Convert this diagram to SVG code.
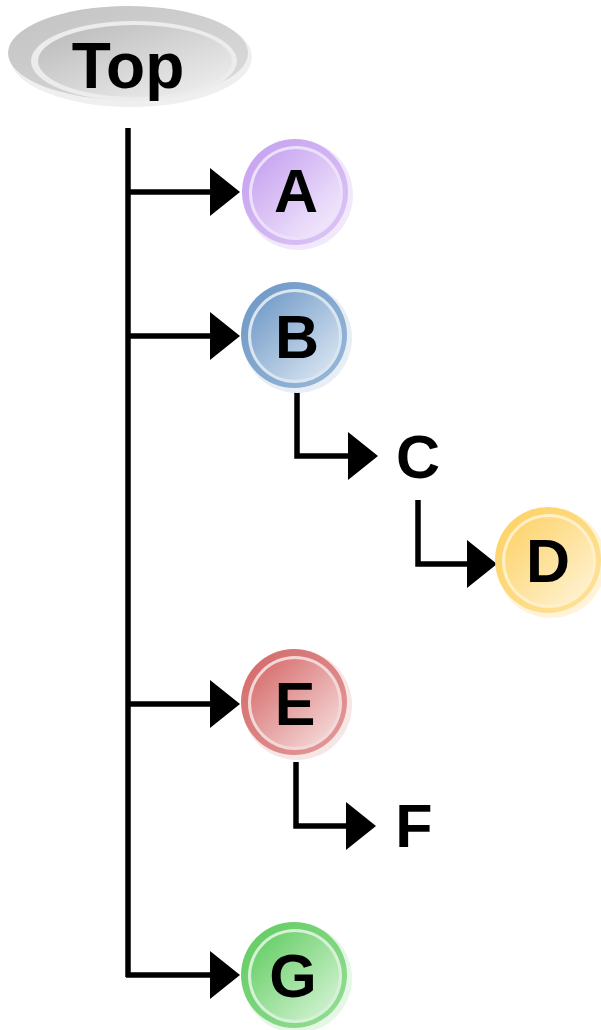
<svg xmlns="http://www.w3.org/2000/svg" width="601" height="1030" viewBox="0 0 601 1030">
<style>
.lbl{font-family:"Liberation Sans",Arial,sans-serif;font-weight:bold;font-size:61px;fill:#000;text-anchor:middle}
.wire{fill:none;stroke:#000;stroke-width:5.5}
</style>
<defs>
<marker id="arr" markerUnits="userSpaceOnUse" markerWidth="32" markerHeight="50" refX="0" refY="24" orient="auto" overflow="visible">
<path d="M0,0 L30,24 L0,48 Z" fill="#000"/>
</marker>
<linearGradient id="gGray" x1="0" y1="0" x2="1" y2="1"><stop offset="0" stop-color="#b8b8b8"/><stop offset="1" stop-color="#f2f2f2"/></linearGradient>
<linearGradient id="rGray" x1="0" y1="0" x2="1" y2="1"><stop offset="0" stop-color="#c2c2c2"/><stop offset="1" stop-color="#dcdcdc"/></linearGradient>
<linearGradient id="gA" x1="0" y1="0" x2="1" y2="1"><stop offset="0" stop-color="#c39cef"/><stop offset="1" stop-color="#f7f1fd"/></linearGradient>
<linearGradient id="rA" x1="0" y1="0" x2="1" y2="1"><stop offset="0" stop-color="#c6a0ef"/><stop offset="1" stop-color="#dcc6f6"/></linearGradient>
<linearGradient id="gB" x1="0" y1="0" x2="1" y2="1"><stop offset="0" stop-color="#6995c4"/><stop offset="1" stop-color="#e2ebf5"/></linearGradient>
<linearGradient id="rB" x1="0" y1="0" x2="1" y2="1"><stop offset="0" stop-color="#6c97c5"/><stop offset="1" stop-color="#9ab9d9"/></linearGradient>
<linearGradient id="gD" x1="0" y1="0" x2="1" y2="1"><stop offset="0" stop-color="#fdd062"/><stop offset="1" stop-color="#fff5da"/></linearGradient>
<linearGradient id="rD" x1="0" y1="0" x2="1" y2="1"><stop offset="0" stop-color="#fdd162"/><stop offset="1" stop-color="#fee39f"/></linearGradient>
<linearGradient id="gE" x1="0" y1="0" x2="1" y2="1"><stop offset="0" stop-color="#d46464"/><stop offset="1" stop-color="#f8e2e2"/></linearGradient>
<linearGradient id="rE" x1="0" y1="0" x2="1" y2="1"><stop offset="0" stop-color="#d46868"/><stop offset="1" stop-color="#e49c9c"/></linearGradient>
<linearGradient id="gG" x1="0" y1="0" x2="1" y2="1"><stop offset="0" stop-color="#5ccb5c"/><stop offset="1" stop-color="#dcf5dc"/></linearGradient>
<linearGradient id="rG" x1="0" y1="0" x2="1" y2="1"><stop offset="0" stop-color="#5fcc5f"/><stop offset="1" stop-color="#98dd98"/></linearGradient>
</defs>
<g id="connectors">
<path class="wire" d="M128,128 V977"/>
<path class="wire" d="M126,192 H210" marker-end="url(#arr)"/>
<path class="wire" d="M126,336 H210" marker-end="url(#arr)"/>
<path class="wire" d="M126,704 H210" marker-end="url(#arr)"/>
<path class="wire" d="M126,975 H210" marker-end="url(#arr)"/>
<path class="wire" d="M297,392 V456 H348" marker-end="url(#arr)"/>
<path class="wire" d="M418,500 V564 H467" marker-end="url(#arr)"/>
<path class="wire" d="M296,762 V826 H346" marker-end="url(#arr)"/>
</g>
<g id="node-top">
<ellipse cx="131" cy="57" rx="121" ry="50" fill="#efefef"/>
<ellipse cx="128" cy="53" rx="120" ry="47" fill="url(#rGray)"/>
<ellipse cx="134" cy="61" rx="103" ry="40" fill="#ececec"/>
<ellipse cx="135" cy="61" rx="97" ry="36" fill="url(#gGray)"/>
<text class="lbl" x="128" y="88" style="font-size:64px">Top</text>
</g>
<g id="node-a">
<circle cx="298" cy="195" r="55" fill="#f1e8fb"/>
<circle cx="295" cy="192" r="53" fill="url(#rA)"/>
<circle cx="296" cy="193" r="47" fill="#ece1fa"/>
<circle cx="296" cy="193" r="44" fill="url(#gA)"/>
<text class="lbl" x="296" y="212">A</text>
</g>
<g id="node-b">
<circle cx="297" cy="338" r="55" fill="#e7eef6"/>
<circle cx="294" cy="335" r="53" fill="url(#rB)"/>
<circle cx="295" cy="336" r="47" fill="#d9e5f1"/>
<circle cx="295" cy="336" r="44" fill="url(#gB)"/>
<text class="lbl" x="297" y="358">B</text>
</g>
<g id="node-c">
<text class="lbl" x="418" y="478">C</text>
</g>
<g id="node-d">
<circle cx="551" cy="563" r="55" fill="#fff4d9"/>
<circle cx="548" cy="560" r="53" fill="url(#rD)"/>
<circle cx="549" cy="561" r="47" fill="#fff0c8"/>
<circle cx="549" cy="561" r="44" fill="url(#gD)"/>
<text class="lbl" x="548" y="582">D</text>
</g>
<g id="node-e">
<circle cx="297" cy="705" r="55" fill="#f7e6e6"/>
<circle cx="294" cy="702" r="53" fill="url(#rE)"/>
<circle cx="295" cy="703" r="47" fill="#f3d8d8"/>
<circle cx="295" cy="703" r="44" fill="url(#gE)"/>
<text class="lbl" x="295" y="725">E</text>
</g>
<g id="node-f">
<text class="lbl" x="414" y="847">F</text>
</g>
<g id="node-g">
<circle cx="297" cy="978" r="55" fill="#e5f7e5"/>
<circle cx="294" cy="975" r="53" fill="url(#rG)"/>
<circle cx="295" cy="976" r="47" fill="#d6f2d6"/>
<circle cx="295" cy="976" r="44" fill="url(#gG)"/>
<text class="lbl" x="293" y="997">G</text>
</g>
</svg>
